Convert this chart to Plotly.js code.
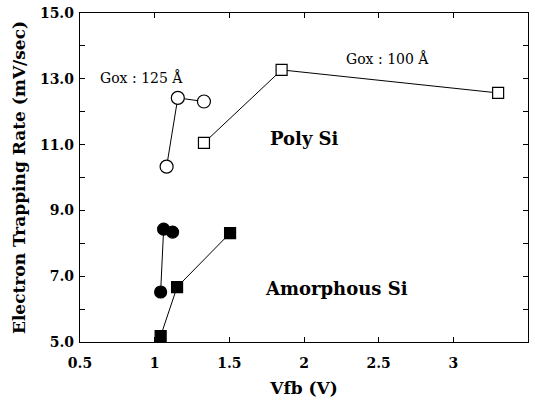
<!DOCTYPE html>
<html><head><meta charset="utf-8">
<script src="https://cdn.plot.ly/plotly-3.0.1.min.js"></script>
<style>body{margin:0;background:#fff}#c{width:535px;height:405px}</style>
</head><body><div id="c"></div>
<script>
// Poly Si, Gox 125 Å (open circles)
const polyA_x = [1.08, 1.155, 1.33];
const polyA_y = [10.33, 12.42, 12.31];
// Poly Si, Gox 100 Å (open squares)
const polyB_x = [1.33, 1.85, 3.30];
const polyB_y = [11.05, 13.27, 12.57];
// Amorphous Si, Gox 125 Å (filled circles)
const amA_x = [1.04, 1.06, 1.12];
const amA_y = [6.52, 8.43, 8.34];
// Amorphous Si, Gox 100 Å (filled squares)
const amB_x = [1.04, 1.15, 1.505];
const amB_y = [5.18, 6.67, 8.31];

const xTicks = [0.5, 1, 1.5, 2, 2.5, 3, 3.5];
const xTickText = ["0.5", "1", "1.5", "2", "2.5", "3", "3.5"];
const yTicks = [5, 6, 7, 8, 9, 10, 11, 12, 13, 14, 15];
const yTickText = ["5.0", "", "7.0", "", "9.0", "", "11.0", "", "13.0", "", "15.0"];

const F = "DejaVu Serif";
const line = {color: "#000", width: 1};
function tr(x, y, sym, fill, size) {
  return {x: x, y: y, mode: "lines+markers", type: "scatter", line: line,
    marker: {symbol: sym, size: size, color: fill, line: {color: "#000", width: 1.2}},
    showlegend: false, hoverinfo: "none"};
}
const data = [
  tr(polyA_x, polyA_y, "circle", "#fff", 13),
  tr(polyB_x, polyB_y, "square", "#fff", 11),
  tr(amA_x, amA_y, "circle", "#000", 12),
  tr(amB_x, amB_y, "square", "#000", 11)
];

const axBase = {showgrid: false, zeroline: false, showline: true, linecolor: "#000", linewidth: 1.2,
  mirror: "ticks", ticks: "inside", ticklen: 5, tickcolor: "#000", tickmode: "array",
  tickfont: {family: F, size: 14, color: "#000", weight: "bold"}};

const layout = {
  width: 535, height: 405,
  margin: {l: 80, r: 7, t: 13, b: 63},
  paper_bgcolor: "#fff", plot_bgcolor: "#fff",
  font: {family: F, color: "#000"},
  xaxis: Object.assign({}, axBase, {range: [0.5, 3.5], tickvals: xTicks, ticktext: xTickText,
    ticklabelstandoff: 8,
    title: {text: "Vfb (V)", font: {family: F, size: 17, weight: "bold"}, standoff: 12}}),
  yaxis: Object.assign({}, axBase, {range: [5, 15], tickvals: yTicks, ticktext: yTickText,
    ticklabelstandoff: 2,
    title: {text: "Electron Trapping Rate (mV/sec)", font: {family: F, size: 17, weight: "bold"}, standoff: 10}}),
  annotations: [
    {x: 0.909, y: 13.05, xref: "x", yref: "y", text: "Gox : 125 Å", showarrow: false, xanchor: "center", font: {family: F, size: 14}},
    {x: 2.56, y: 13.63, xref: "x", yref: "y", text: "Gox : 100 Å", showarrow: false, xanchor: "center", font: {family: F, size: 14}},
    {x: 2.0, y: 11.2, xref: "x", yref: "y", text: "Poly Si", showarrow: false, xanchor: "center", font: {family: F, size: 18, weight: "bold"}},
    {x: 2.215, y: 6.64, xref: "x", yref: "y", text: "Amorphous Si", showarrow: false, xanchor: "center", font: {family: F, size: 18, weight: "bold"}}
  ]
};
Plotly.newPlot("c", data, layout, {displayModeBar: false, staticPlot: true});
</script></body></html>
